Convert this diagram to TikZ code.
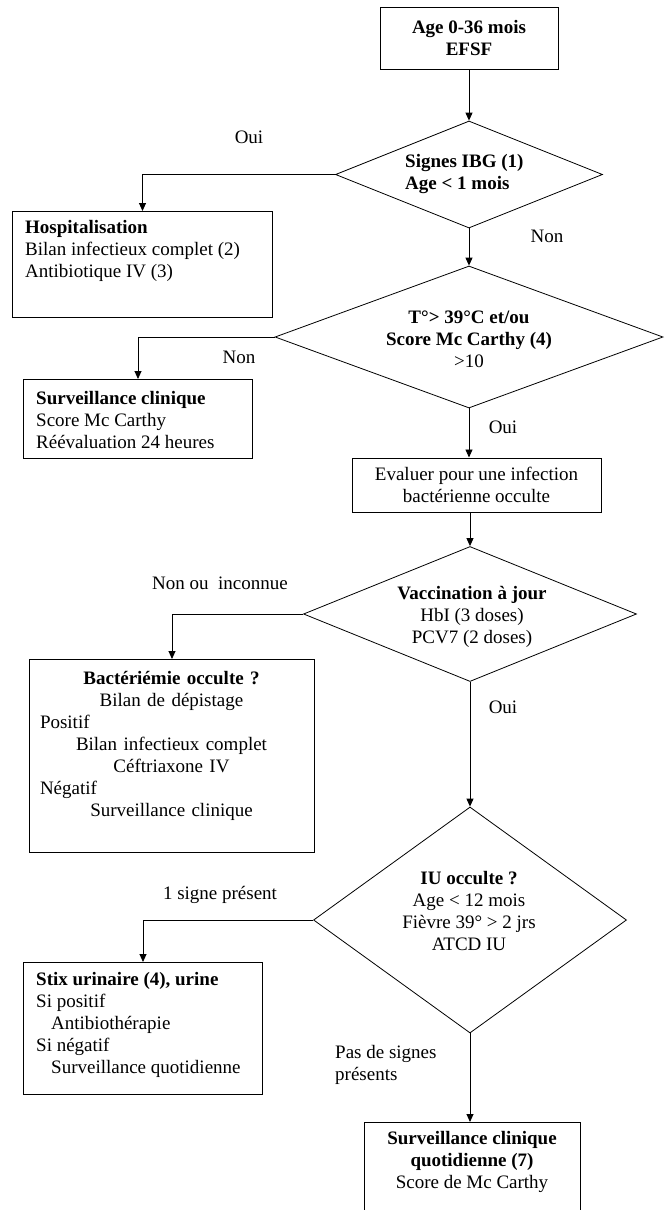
\documentclass[tikz,border=0pt]{standalone}
\usepackage{fontspec}
\setmainfont{Liberation Serif}
\usetikzlibrary{shapes.geometric,arrows.meta}
\begin{document}
\begin{tikzpicture}[x=1pt,y=-1pt,
  every node/.style={font=\fontsize{19}{22}\selectfont},
  box/.style={draw, line width=1pt, inner sep=0pt, anchor=north west},
  dia/.style={draw, diamond, line width=0.8pt, inner sep=0pt},
  txt/.style={inner sep=0pt, align=left, anchor=west},
  ctxt/.style={inner sep=0pt, align=center},
  lbl/.style={inner sep=0pt},
  arr/.style={line width=0.9pt, -{Triangle[length=8pt,width=7pt]}},
  bf/.style={font=\fontsize{19}{22}\selectfont\bfseries}
]
\useasboundingbox (0,0) rectangle (664,1210);

% top box
\node[box, anchor=center, minimum width=178, minimum height=62, align=center, bf] (start) at (469,38) {Age 0-36 mois\\EFSF};

% diamond 1
\node[dia, minimum width=267, minimum height=107] (d1) at (469,174.5) {};
\node[txt, bf] (d1t) at (405,174) {Signes IBG (1)\\Age < 1 mois};

% hospitalisation
\node[box, minimum width=260, minimum height=106] (hosp) at (12,211) {};
\node[txt] (hospt) at (25,251) {\textbf{Hospitalisation}\\Bilan infectieux complet (2)\\Antibiotique IV (3)};

% diamond 2
\node[dia, minimum width=388, minimum height=142] (d2) at (469,337) {};
\node[ctxt] (d2t) at (469,339) {\textbf{T°> 39°C et/ou}\\\textbf{Score Mc Carthy (4)}\\>10};

% surveillance
\node[box, minimum width=229, minimum height=79] (surv) at (23,379) {};
\node[txt] (survt) at (36,420) {\textbf{Surveillance clinique}\\Score Mc Carthy\\Réévaluation 24 heures};

% evaluer
\node[box, anchor=center, minimum width=249, minimum height=54, align=center] (eval) at (476.5,485) {Evaluer pour une infection\\bactérienne occulte};

% diamond 3
\node[dia, minimum width=333, minimum height=135] (d3) at (470,614) {};
\node[ctxt] (d3t) at (472,617) {\textbf{Vaccination à jour}\\HbI (3 doses)\\PCV7 (2 doses)};

% bacteriemie
\node[box, minimum width=285, minimum height=193] (bact) at (29,659) {};
\node[ctxt, text width=263pt] (bactt) at (171.5,745.5) {\textbf{Bactériémie occulte ?}\\Bilan de dépistage\\\makebox[263pt][l]{Positif}\\Bilan infectieux complet\\Céftriaxone IV\\\makebox[263pt][l]{Négatif}\\Surveillance clinique};

% diamond 4
\node[dia, minimum width=313, minimum height=226] (d4) at (470,920) {};
\node[ctxt] (d4t) at (469,911) {\textbf{IU occulte ?}\\Age < 12 mois\\Fièvre 39° > 2 jrs\\ATCD IU};

% stix
\node[box, minimum width=239, minimum height=132] (stix) at (23,962) {};
\node[txt] (stixt) at (36,1025) {\textbf{Stix urinaire (4), urine}\\Si positif\\\hspace*{15pt}Antibiothérapie\\Si négatif\\\hspace*{15pt}Surveillance quotidienne};

% final
\node[box, minimum width=216, minimum height=110] (fin) at (364,1122) {};
\node[ctxt] (fint) at (472,1161.5) {\textbf{Surveillance clinique}\\\textbf{quotidienne (7)}\\Score de Mc Carthy};

% connectors
\draw[arr] (start.south) -- (d1.north);
\draw[arr] (d1.west) -| (hosp.north);
\draw[arr] (d1.south) -- (d2.north);
\draw[arr] (d2.west) -| (surv.north);
\draw[arr] (d2.south) -- (d2.south |- eval.north);
\draw[arr] (eval.south -| d3.north) -- (d3.north);
\draw[arr] (d3.west) -| (bact.north);
\draw[arr] (d3.south) -- (d4.north);
\draw[arr] (d4.west) -| (stix.north);
\draw[arr] (d4.south) -- (d4.south |- fin.north);

% labels
\node[lbl] (l1) at (249,137) {Oui};
\node[lbl] (l2) at (547,236) {Non};
\node[lbl] (l3) at (239,357) {Non};
\node[lbl] (l4) at (503,427) {Oui};
\node[lbl] (l5) at (220,583) {Non ou\ \ inconnue};
\node[lbl] (l6) at (503,707) {Oui};
\node[lbl] (l7) at (220,895) {1 signe présent};
\node[lbl, align=left, anchor=west] (l8) at (335,1065) {Pas de signes\\présents};
\end{tikzpicture}
\end{document}
